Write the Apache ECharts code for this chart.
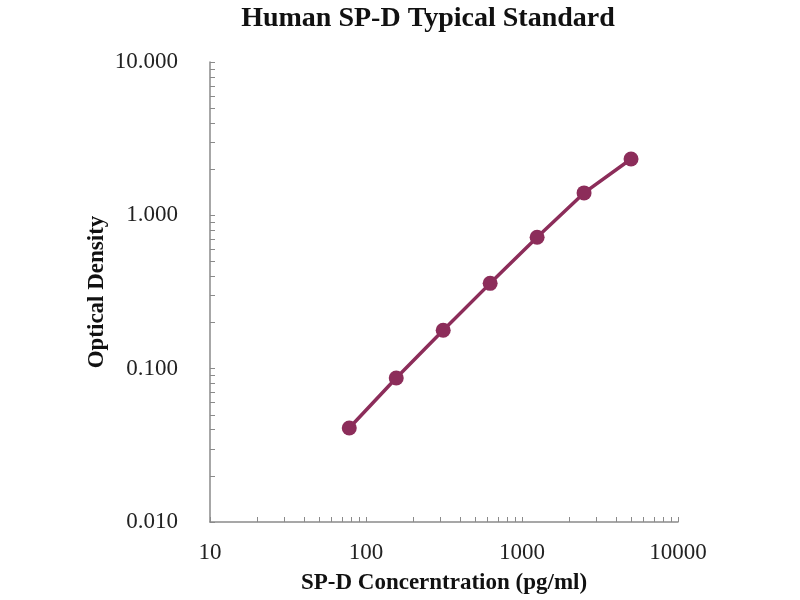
<!DOCTYPE html>
<html>
<head>
<meta charset="utf-8">
<script src="https://cdn.jsdelivr.net/npm/echarts@6/dist/echarts.min.js"></script>
<style>
  html, body { margin: 0; padding: 0; background: #fff; }
  #chart { width: 800px; height: 600px; }
</style>
</head>
<body>
<div id="chart"></div>
<script>
// standard curve points
const concentration = [78.125, 156.25, 312.5, 625, 1250, 2500, 5000];
const opticalDensity = [0.041, 0.087, 0.178, 0.36, 0.72, 1.40, 2.33];

// every 1..9 multiple of each decade gets a little tick
const xTicks = [];
for ( let d = 10; d < 10000; d *= 10 )
  for ( let m = 1; m < 10; m++ ) xTicks.push( d * m );
xTicks.push( 10000 );

const yTicks = [];
for ( let d = 0.01; d < 10 - 1e-9; d *= 10 )
  for ( let m = 1; m < 10; m++ ) yTicks.push( +( d * m ).toPrecision( 3 ) );
yTicks.push( 10 );

const serif = '"Liberation Serif", "DejaVu Serif", serif';
const lineColor = '#8c2d5a';

const chart = echarts.init( document.getElementById( 'chart' ) );
chart.setOption( {
  animation: false,
  title: {
    text: 'Human SP-D Typical Standard',
    left: 423,
    textAlign: 'center',
    top: 0,
    textStyle: { fontFamily: serif, fontSize: 28, fontWeight: 'bold', color: '#111' }
  },
  grid: { left: 210, right: 122, top: 62, bottom: 77 },
  xAxis: {
    type: 'log',
    logBase: 10,
    min: 10,
    max: 10000,
    name: 'SP-D Concerntration (pg/ml)',
    nameLocation: 'middle',
    nameGap: 50,
    nameMoveOverlap: false,
    nameTextStyle: { fontFamily: serif, fontSize: 23, fontWeight: 'bold', color: '#111' },
    axisLine: { lineStyle: { color: '#8a8a8a', width: 1.5 } },
    axisTick: { inside: true, length: 5, customValues: xTicks, lineStyle: { color: '#8a8a8a' } },
    axisLabel: {
      fontFamily: serif, fontSize: 23, color: '#222', margin: 19,
      formatter: ( v ) => String( v )
    },
    splitLine: { show: false }
  },
  yAxis: {
    type: 'log',
    logBase: 10,
    min: 0.01,
    max: 10,
    name: 'Optical Density',
    nameLocation: 'middle',
    nameGap: 101,
    nameMoveOverlap: false,
    nameTextStyle: { fontFamily: serif, fontSize: 23, fontWeight: 'bold', color: '#111' },
    axisLine: { show: true, lineStyle: { color: '#8a8a8a', width: 1.5 } },
    axisTick: { show: true, inside: true, length: 5, customValues: yTicks, lineStyle: { color: '#8a8a8a' } },
    axisLabel: {
      fontFamily: serif, fontSize: 23, color: '#222', margin: 32,
      formatter: ( v ) => v.toFixed( 3 )
    },
    splitLine: { show: false }
  },
  series: [ {
    type: 'line',
    data: concentration.map( ( c, i ) => [ c, opticalDensity[i] ] ),
    smooth: false,
    symbol: 'circle',
    symbolSize: 15,
    lineStyle: { color: lineColor, width: 3.5 },
    itemStyle: { color: lineColor }
  } ]
} );
</script>
</body>
</html>
